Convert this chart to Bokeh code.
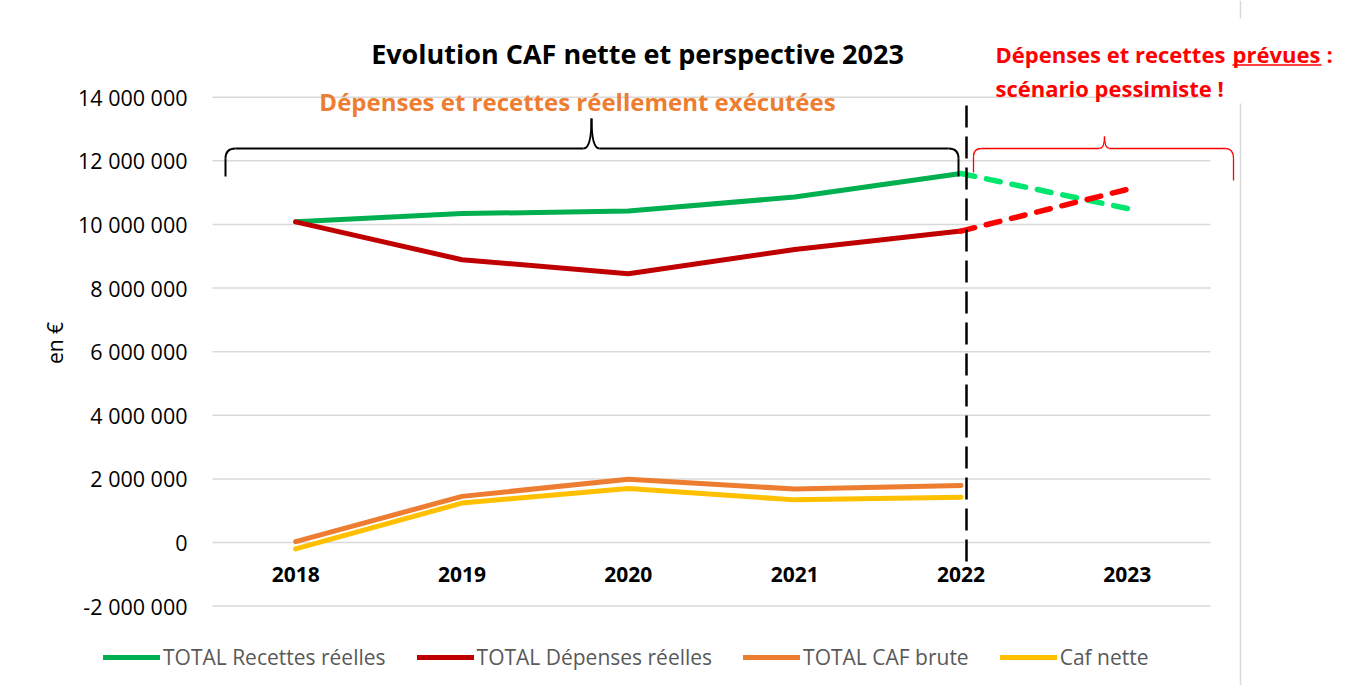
from bokeh.plotting import figure
from bokeh.models import Range1d, FixedTicker, Legend, LegendItem
from bokeh.core.properties import value
from bokeh.embed import file_html
from bokeh.resources import INLINE

# ---------------- data ----------------
years = ["2018", "2019", "2020", "2021", "2022", "2023"]
recettes = [10.08e6, 10.34e6, 10.42e6, 10.86e6, 11.60e6]
depenses = [10.08e6, 8.89e6, 8.45e6, 9.21e6, 9.79e6]
caf_brute = [0.03e6, 1.45e6, 1.99e6, 1.68e6, 1.79e6]
caf_nette = [-0.20e6, 1.24e6, 1.70e6, 1.34e6, 1.42e6]
recettes_prevues = [11.60e6, 10.50e6]   # 2022 -> 2023
depenses_prevues = [9.79e6, 11.10e6]    # 2022 -> 2023
y_ticks = [-2e6, 0, 2e6, 4e6, 6e6, 8e6, 10e6, 12e6, 14e6]
legend_labels = ["TOTAL Recettes réelles", "TOTAL Dépenses réelles", "TOTAL CAF brute", "Caf nette"]

FONT = "Open Sans"
W, H = 1346, 685

# pixel helpers for annotations (picture pixel -> data)
PXU = 998 / 6.0
PXM = 31.81 / 1e6
def xd(px):
    return (px - 212) / PXU - 0.5
def yd(py):
    return (542 - py) / PXM

p = figure(width=W, height=H, output_backend="svg", toolbar_location=None,
           x_axis_location=None, min_border_left=0, min_border_right=0,
           min_border_top=0, min_border_bottom=0,
           x_range=Range1d(xd(0), xd(W)),
           y_range=Range1d(yd(H), yd(0)))
p.outline_line_color = None
p.grid.visible = False
p.background_fill_color = "white"
p.border_fill_color = "white"

idx = list(range(len(years)))
hist = idx[:5]

# gridlines from y ticks
p.segment(x0=[-0.5] * len(y_ticks), x1=[5.5] * len(y_ticks), y0=y_ticks, y1=y_ticks,
          line_color="#D9D9D9", line_width=1.5)

# chart area right border (partly hidden by the red text box)
p.segment(x0=[xd(1240), xd(1240)], x1=[xd(1240), xd(1240)], y0=[yd(0), yd(103)], y1=[yd(18), yd(690)],
          line_color="#D9D9D9", line_width=1.5)

# y axis (drawn at the left edge of the plotting area)
ya = p.yaxis[0]
ya.fixed_location = -0.5
ya.ticker = FixedTicker(ticks=y_ticks)
ya.major_label_overrides = {t: f"{int(t):,}".replace(",", " ") for t in y_ticks}
ya.axis_line_color = None
ya.major_tick_line_color = None
ya.minor_tick_line_color = None
ya.major_label_standoff = 19
ya.major_label_text_font = FONT
ya.major_label_text_font_size = "21.5px"
ya.major_label_text_color = "#000000"
ya.axis_label = "en €"
ya.axis_label_text_font = FONT
ya.axis_label_text_font_size = "21px"
ya.axis_label_text_font_style = "normal"
ya.axis_label_text_color = "#000000"
ya.axis_label_standoff = 6

# series
r_rec = p.line(hist, recettes, line_color="#00B050", line_width=5, line_cap="round", line_join="round")
r_dep = p.line(hist, depenses, line_color="#C00000", line_width=5, line_cap="round", line_join="round")
r_cb = p.line(hist, caf_brute, line_color="#ED7D31", line_width=5, line_cap="round", line_join="round")
r_cn = p.line(hist, caf_nette, line_color="#FFC000", line_width=5, line_cap="round", line_join="round")

# forecasts 2022 -> 2023
p.line(idx[4:], recettes_prevues, line_color="#00E66E", line_width=5.5, line_dash="14 12", line_cap="round")
p.line(idx[4:], depenses_prevues, line_color="#FF0000", line_width=5.5, line_dash="14 12", line_cap="round")

# vertical dashed separator
p.line([xd(966), xd(966)], [yd(105), yd(565)], line_color="black", line_width=2.5, line_dash="22 9")

# black brace (executed period)
bc = "black"
bw = 2
p.line([xd(225), xd(225)], [yd(176), yd(158)], line_color=bc, line_width=bw)
p.quadratic(x0=[xd(225)], y0=[yd(158)], x1=[xd(235)], y1=[yd(148)], cx=[xd(225)], cy=[yd(148)], line_color=bc, line_width=bw)
p.line([xd(235), xd(583)], [yd(148), yd(148)], line_color=bc, line_width=bw)
p.quadratic(x0=[xd(583)], y0=[yd(148)], x1=[xd(591)], y1=[yd(118)], cx=[xd(591)], cy=[yd(148)], line_color=bc, line_width=bw)
p.quadratic(x0=[xd(599)], y0=[yd(148)], x1=[xd(591)], y1=[yd(118)], cx=[xd(591)], cy=[yd(148)], line_color=bc, line_width=bw)
p.line([xd(599), xd(948)], [yd(148), yd(148)], line_color=bc, line_width=bw)
p.quadratic(x0=[xd(948)], y0=[yd(148)], x1=[xd(958)], y1=[yd(158)], cx=[xd(958)], cy=[yd(148)], line_color=bc, line_width=bw)
p.line([xd(958), xd(958)], [yd(158), yd(176)], line_color=bc, line_width=bw)

# red brace (forecast)
rc = "#FF0000"
rw = 1.3
p.line([xd(973), xd(973)], [yd(172), yd(156)], line_color=rc, line_width=rw)
p.quadratic(x0=[xd(973)], y0=[yd(156)], x1=[xd(981)], y1=[yd(148)], cx=[xd(973)], cy=[yd(148)], line_color=rc, line_width=rw)
p.line([xd(981), xd(1099)], [yd(148), yd(148)], line_color=rc, line_width=rw)
p.quadratic(x0=[xd(1099)], y0=[yd(148)], x1=[xd(1104)], y1=[yd(136)], cx=[xd(1104)], cy=[yd(148)], line_color=rc, line_width=rw)
p.quadratic(x0=[xd(1109)], y0=[yd(148)], x1=[xd(1104)], y1=[yd(136)], cx=[xd(1104)], cy=[yd(148)], line_color=rc, line_width=rw)
p.line([xd(1109), xd(1225)], [yd(148), yd(148)], line_color=rc, line_width=rw)
p.quadratic(x0=[xd(1225)], y0=[yd(148)], x1=[xd(1233)], y1=[yd(158)], cx=[xd(1233)], cy=[yd(148)], line_color=rc, line_width=rw)
p.line([xd(1233), xd(1233)], [yd(158), yd(180)], line_color=rc, line_width=rw)

# category labels (near the 0 axis)
p.text(x=idx, y=[-1e6] * len(years), text=years, text_font=value(FONT), text_font_size="21px",
       text_font_style="bold", text_align="center", text_baseline="middle", text_color="#000000")

# titles
p.text(x=[xd(637)], y=[yd(53)], text=["Evolution CAF nette et perspective 2023"], text_font=value(FONT),
       text_font_size="27px", text_font_style="bold", text_align="center", text_baseline="middle",
       text_color="#000000")
p.text(x=[xd(577)], y=[yd(101)], text=["Dépenses et recettes réellement exécutées"], text_font=value(FONT),
       text_font_size="24px", text_font_style="bold", text_align="center", text_baseline="middle",
       text_color="#ED7D31")
p.text(x=[xd(995), xd(1232), xd(1326)], y=[yd(53), yd(53), yd(53)],
       text=["Dépenses et recettes", "prévues", ":"], text_font=value(FONT),
       text_font_size="22px", text_font_style="bold", text_align="left", text_baseline="middle",
       text_color="#FF0000")
p.line([xd(1232), xd(1321)], [yd(64.5), yd(64.5)], line_color="#FF0000", line_width=1.5)
p.text(x=[xd(995)], y=[yd(87)], text=["scénario pessimiste !"], text_font=value(FONT),
       text_font_size="22px", text_font_style="bold", text_align="left", text_baseline="middle",
       text_color="#FF0000")

# legend
legend = Legend(items=[LegendItem(label=l, renderers=[r]) for l, r in
                       zip(legend_labels, [r_rec, r_dep, r_cb, r_cn])],
                orientation="horizontal", location=(103, H - 671),
                glyph_width=57, glyph_height=20, label_height=20, label_standoff=3, spacing=31,
                padding=0, margin=0, border_line_alpha=0, background_fill_alpha=0,
                label_text_font=FONT, label_text_font_size="21px", label_text_color="#595959")
p.add_layout(legend)

open("out.html", "w").write(file_html(p, INLINE))
